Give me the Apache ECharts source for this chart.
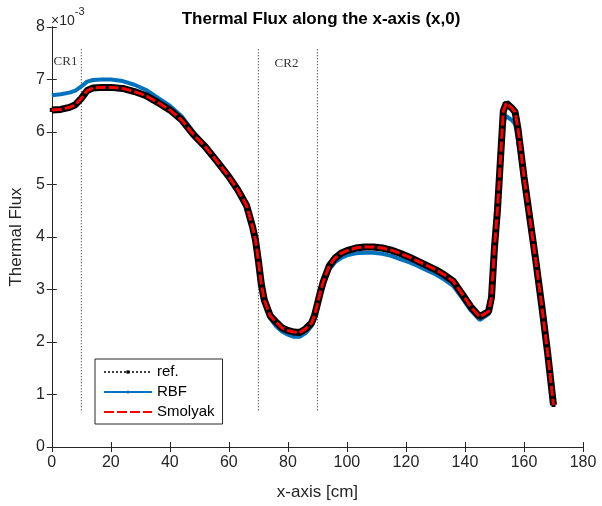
<!DOCTYPE html>
<html>
<head>
<meta charset="utf-8">
<script src="https://cdn.jsdelivr.net/npm/echarts@6/dist/echarts.min.js"></script>
<style>html,body{margin:0;padding:0;background:#fff}#c{width:602px;height:506px}</style>
</head>
<body>
<div id="c"></div>
<script>
// ---- data (x in cm, flux in units of 1e-3) ----
const xPos = [0,3,6,8,10,12,14,17,20,24,28,32,36,40,44,48,52,56,60,63,66,68,69,70,71,72,74,76,78,80,82,84,86,88,89,90,91,92,94,96,98,100,103,106,109,112,115,118,121,124,127,130,133,136,139,142,145,148,149,150,151,152,153,154,156,157,158,160,162,164,166,168,170];
const refVals = [6.42,6.43,6.47,6.52,6.64,6.79,6.84,6.85,6.85,6.83,6.77,6.69,6.56,6.42,6.23,5.95,5.72,5.44,5.15,4.90,4.60,4.20,3.95,3.55,3.10,2.80,2.50,2.38,2.27,2.22,2.19,2.18,2.25,2.36,2.50,2.72,2.95,3.15,3.45,3.60,3.69,3.74,3.79,3.81,3.81,3.79,3.75,3.69,3.62,3.54,3.46,3.38,3.28,3.16,2.92,2.67,2.48,2.58,2.85,3.80,4.50,5.45,6.40,6.55,6.45,6.38,6.05,5.15,4.35,3.55,2.70,1.80,0.80];
const rbfVals = [6.70,6.72,6.75,6.79,6.87,6.96,6.99,7.00,7.00,6.97,6.90,6.80,6.65,6.50,6.30,6.00,5.74,5.44,5.14,4.88,4.58,4.18,3.92,3.52,3.08,2.76,2.45,2.30,2.20,2.14,2.10,2.10,2.17,2.30,2.45,2.66,2.88,3.08,3.38,3.52,3.60,3.65,3.69,3.70,3.70,3.68,3.64,3.58,3.52,3.45,3.37,3.29,3.19,3.07,2.84,2.60,2.42,2.53,2.80,3.70,4.40,5.30,6.20,6.30,6.22,6.15,5.85,5.05,4.30,3.52,2.68,1.78,0.80];
const smolyakVals = [6.42,6.43,6.47,6.52,6.64,6.79,6.84,6.85,6.85,6.83,6.77,6.69,6.56,6.42,6.23,5.95,5.72,5.44,5.15,4.90,4.60,4.20,3.95,3.55,3.10,2.80,2.50,2.38,2.27,2.22,2.19,2.18,2.25,2.36,2.50,2.72,2.95,3.15,3.45,3.60,3.69,3.74,3.79,3.81,3.81,3.79,3.75,3.69,3.62,3.54,3.46,3.38,3.28,3.16,2.92,2.67,2.48,2.58,2.85,3.80,4.50,5.45,6.40,6.55,6.45,6.38,6.05,5.15,4.35,3.55,2.70,1.80,0.80];
const regionLinesX = [10, 70, 90];
const regionLineY = [0.7, 7.6];
const regionLabels = [{text:'CR1', x:0.6, y:7.35}, {text:'CR2', x:75.5, y:7.3}];
const xTicks = {min:0, max:180, interval:20};
const yTicks = {min:0, max:8, interval:1};
const seriesNames = ['ref.', 'RBF', 'Smolyak'];

const FONT = "'Liberation Sans', Arial, sans-serif";
const pair = (xs, ys) => xs.map((x, i) => [x, ys[i]]);

const chart = echarts.init(document.getElementById('c'), null, {renderer:'canvas'});

const vLines = regionLinesX.map(x => ({
  type:'line', silent:true, symbol:'none', z:1,
  data: regionLineY.map(y => [x, y]),
  lineStyle:{color:'#222', width:1, type:[1,2]}
}));

const axisCommon = {
  axisLine:{show:true, lineStyle:{color:'#262626', width:1}},
  axisTick:{show:true, inside:true, length:5, lineStyle:{color:'#262626'}},
  splitLine:{show:false}
};

chart.setOption({
  animation:false,
  backgroundColor:'#fff',
  title:{
    text:'Thermal Flux along the x-axis (x,0)',
    left:316, top:6, textAlign:'center',
    textStyle:{fontFamily:FONT, fontSize:17, fontWeight:'bold', color:'#000'}
  },
  grid:{left:51, right:19, top:27, bottom:53, containLabel:false},
  legend:{
    data:[
      {name:seriesNames[0], lineStyle:{width:1.5}},
      {name:seriesNames[1], lineStyle:{width:2}},
      {name:seriesNames[2], lineStyle:{width:2}, itemStyle:{opacity:0}}
    ],
    orient:'vertical', left:95, top:359,
    itemWidth:48, itemHeight:4, itemGap:4,
    padding:[5,8,4,8],
    borderColor:'#262626', borderWidth:1, backgroundColor:'#fff',
    textStyle:{fontFamily:FONT, fontSize:15, color:'#000', lineHeight:16}
  },
  xAxis:[
    Object.assign({type:'value', min:xTicks.min, max:xTicks.max, interval:xTicks.interval,
      name:'x-axis [cm]', nameLocation:'middle', nameGap:37,
      nameTextStyle:{fontFamily:FONT, fontSize:17, color:'#262626'},
      axisLabel:{fontFamily:FONT, fontSize:16, color:'#262626', margin:8}}, axisCommon),
    Object.assign({type:'value', position:'top', min:xTicks.min, max:xTicks.max, interval:xTicks.interval,
      axisLabel:{show:false}}, axisCommon)
  ],
  yAxis:[
    Object.assign({type:'value', min:yTicks.min, max:yTicks.max, interval:yTicks.interval,
      name:'Thermal Flux', nameLocation:'middle', nameGap:25, nameRotate:90,
      nameTextStyle:{fontFamily:FONT, fontSize:17, color:'#262626'},
      axisLabel:{fontFamily:FONT, fontSize:16, color:'#262626', margin:7}}, axisCommon),
    Object.assign({type:'value', position:'right', min:yTicks.min, max:yTicks.max, interval:yTicks.interval,
      axisLabel:{show:false}}, axisCommon)
  ],
  series: vLines.concat([
    {
      name:'RBF', type:'line', z:2, data:pair(xPos, rbfVals),
      symbol:'circle', symbolSize:2, showSymbol:false,
      itemStyle:{color:'#0072BD'},
      lineStyle:{color:'#0072BD', width:4}
    },
    {
      name:'_refband', type:'line', z:3, silent:true, data:pair(xPos, refVals),
      symbol:'none', lineStyle:{color:'#000', width:7}
    },
    {
      name:'ref.', type:'line', z:4, data:pair(xPos, refVals),
      symbol:'rect', symbolSize:4, showSymbol:true,
      itemStyle:{color:'#000'},
      lineStyle:{color:'#000', width:1.5, type:[2,2]}
    },
    {
      name:'Smolyak', type:'line', z:5, data:pair(xPos, smolyakVals),
      symbol:'none',
      itemStyle:{color:'#FF0000'},
      lineStyle:{color:'#FF0000', width:3, type:[10,3]}
    },
    {
      name:'_labels', type:'scatter', z:6, silent:true, symbolSize:0,
      data: regionLabels.map(l => ({value:[l.x, l.y], label:{show:true, formatter:l.text, position:'right', distance:0,
        fontFamily:"'Liberation Serif', 'Times New Roman', serif", fontSize:13, color:'#000'}}))
    }
  ]),
  graphic:[{
    type:'text', left:51, top:6,
    style:{
      text:'{a|×10}{b|-3}',
      rich:{
        a:{fontFamily:FONT, fontSize:14, fill:'#262626', verticalAlign:'bottom', lineHeight:22},
        b:{fontFamily:FONT, fontSize:11, fill:'#262626', verticalAlign:'top', lineHeight:22, padding:[0,0,8,0]}
      }
    }
  }]
});
</script>
</body>
</html>
